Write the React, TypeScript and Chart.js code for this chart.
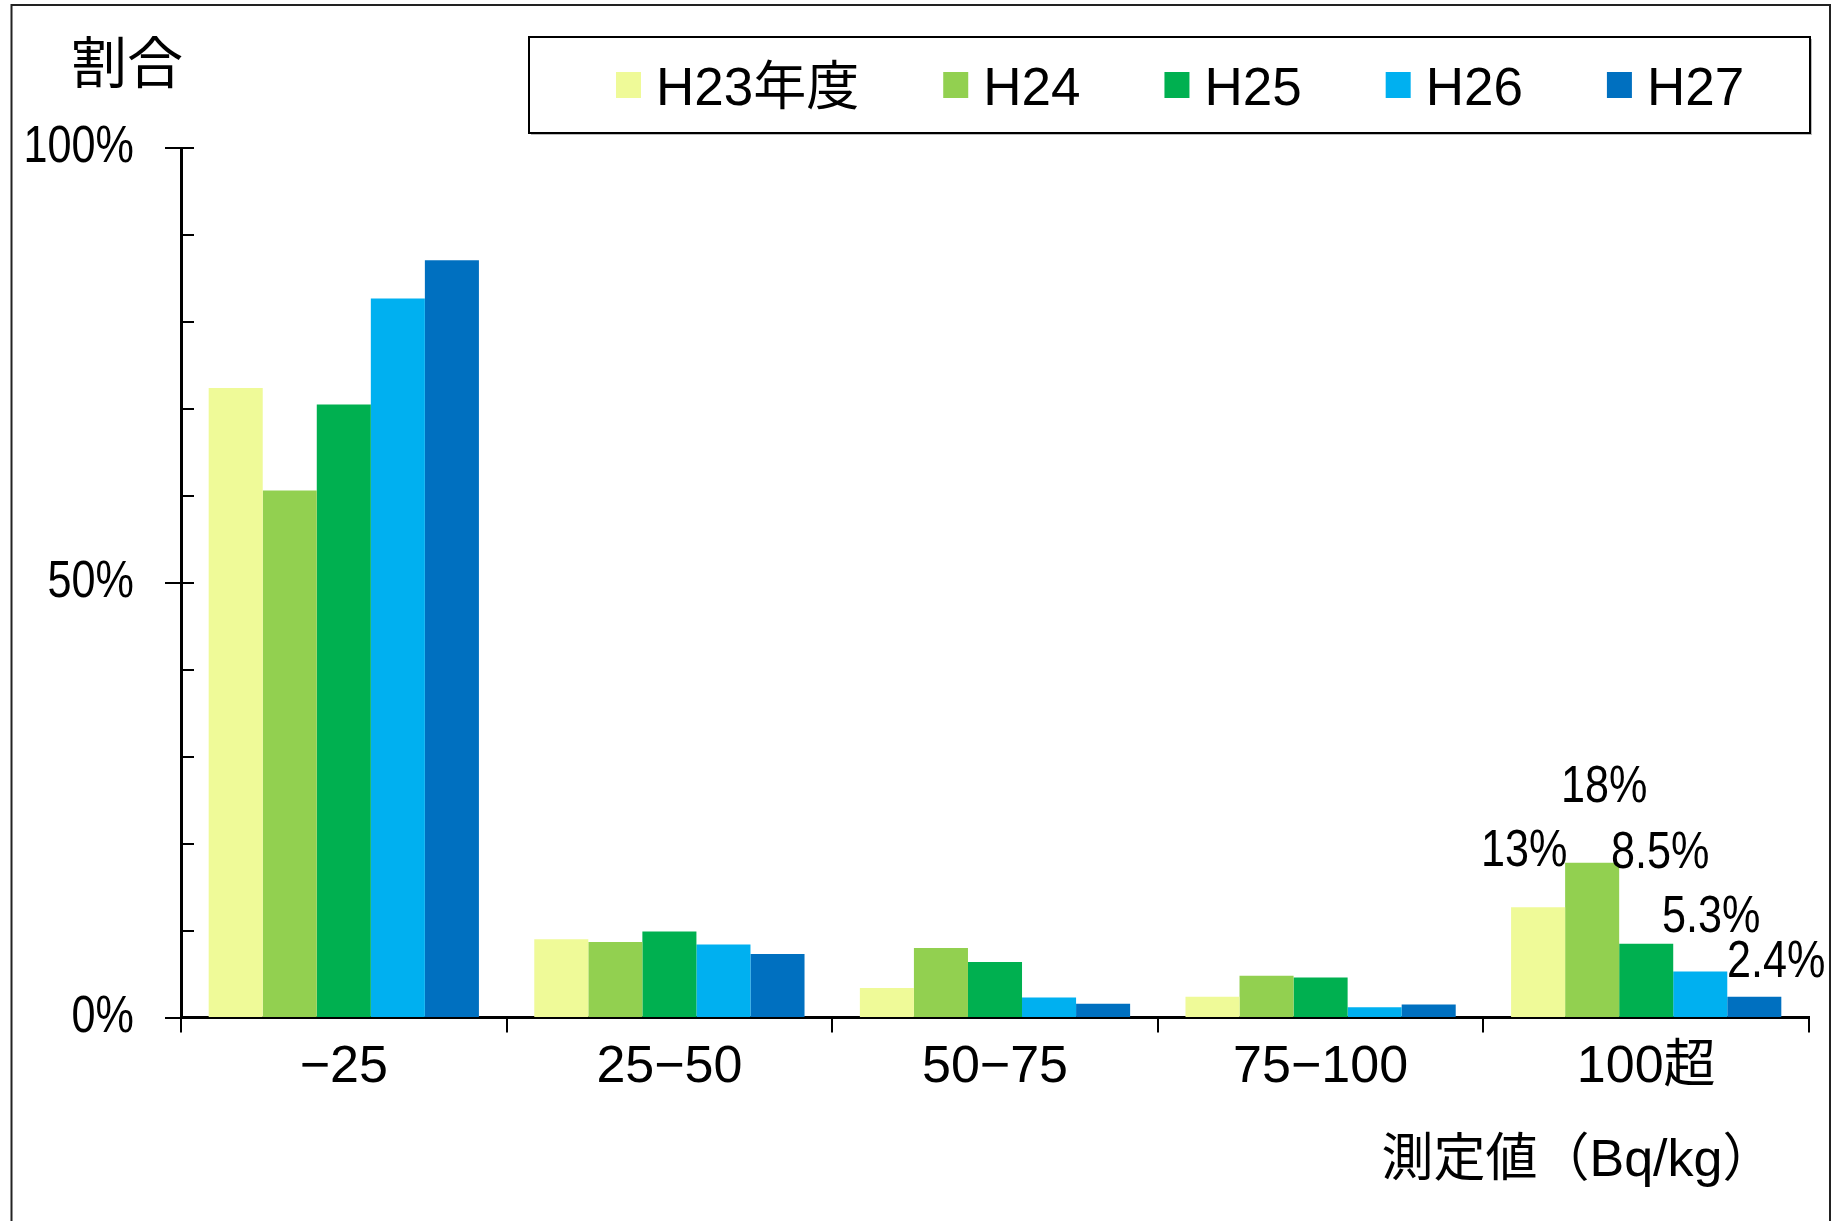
import React, { useEffect, useRef } from 'react';
import { Chart, registerables } from 'chart.js';

Chart.register(...registerables);

// ---- data ----
const categories = ['−25', '25−50', '50−75', '75−100', '100超'];
const seriesLabels = ['H23年度', 'H24', 'H25', 'H26', 'H27'];
const seriesColors = ['#EFFA98', '#92D050', '#00B050', '#00B0F0', '#0070C0'];
const h23 = [72.4, 9.0, 3.4, 2.4, 12.7];
const h24 = [60.6, 8.7, 8.0, 4.8, 17.8];
const h25 = [70.5, 9.9, 6.4, 4.6, 8.5];
const h26 = [82.7, 8.4, 2.3, 1.2, 5.3];
const h27 = [87.1, 7.3, 1.6, 1.5, 2.4];
const seriesValues = [h23, h24, h25, h26, h27];
const majorTicks = [0, 50, 100];
const yTitle = '割合';
const xTitle = '測定値（Bq/kg）';
const labeledCategory = '100超';

// ---- styling / placement (not data) ----
const FONT = "'Liberation Sans', 'Noto Sans CJK JP', sans-serif";
const PCT_SCALE = 0.83;
const labelOffsets = [
  [-14, 41],
  [12, 61],
  [14, 76],
  [11, 40],
  [22, 20],
];

const decorPlugin = {
  id: 'decor',
  beforeDraw(chart: any) {
    const ctx = chart.ctx;
    if (!ctx.__origFill) {
      const orig = ctx.fillText;
      ctx.__origFill = orig;
      ctx.fillText = function (text: any, x: number, y: number, maxWidth?: number) {
        const s = String(text);
        if (s.includes('%')) {
          this.save();
          this.translate(x, y);
          this.scale(PCT_SCALE, 1);
          orig.call(this, s, 0, 0);
          this.restore();
        } else if (maxWidth === undefined) {
          orig.call(this, s, x, y);
        } else {
          orig.call(this, s, x, y, maxWidth);
        }
      };
    }
    ctx.save();
    ctx.fillStyle = '#fff';
    ctx.fillRect(0, 0, chart.width, chart.height);
    ctx.strokeStyle = '#222';
    ctx.lineWidth = 2;
    ctx.strokeRect(11.5, 5, 1818.5, chart.height + 20);
    ctx.restore();
  },
  afterDraw(chart: any) {
    const ctx = chart.ctx;
    const yScale = chart.scales.y;
    const axisX = chart.chartArea.left;
    ctx.save();
    // y tick marks
    ctx.strokeStyle = '#000';
    ctx.lineWidth = 2;
    for (let v = 0; v <= 100; v += 10) {
      const py = Math.round(yScale.getPixelForValue(v));
      ctx.beginPath();
      ctx.moveTo(majorTicks.includes(v) ? axisX - 16 : axisX, py);
      ctx.lineTo(axisX + 13, py);
      ctx.stroke();
    }
    // titles
    ctx.fillStyle = '#000';
    ctx.textAlign = 'center';
    ctx.textBaseline = 'middle';
    ctx.font = `56px ${FONT}`;
    ctx.fillText(yTitle, 127, 68);
    ctx.font = `52px ${FONT}`;
    ctx.fillText(xTitle, 1578, 1162);

    // legend box
    const bx = 529, by = 37, bw = 1281, bh = 96;
    ctx.fillStyle = '#bbb';
    ctx.fillRect(bx + 2, by + bh, bw, 2);
    ctx.fillRect(bx + bw, by + 2, 2, bh);
    ctx.strokeStyle = '#000';
    ctx.lineWidth = 2;
    ctx.strokeRect(bx, by, bw, bh);
    ctx.font = `53px ${FONT}`;
    ctx.textAlign = 'left';
    ctx.textBaseline = 'alphabetic';
    const sw = 25, gap = 15, spacing = 84;
    let x = 616;
    chart.data.datasets.forEach((d: any) => {
      const w = ctx.measureText(d.label).width;
      ctx.fillStyle = d.backgroundColor;
      ctx.fillRect(x, 72, sw, 26);
      ctx.fillStyle = '#000';
      ctx.fillText(d.label, x + sw + gap, 105);
      x += sw + gap + w + spacing;
    });

    // data labels for last category
    const catIdx = categories.indexOf(labeledCategory);
    ctx.font = `52px ${FONT}`;
    ctx.textAlign = 'center';
    ctx.textBaseline = 'alphabetic';
    ctx.fillStyle = '#000';
    chart.data.datasets.forEach((d: any, i: number) => {
      const bar = chart.getDatasetMeta(i).data[catIdx];
      const v = Number(d.data[catIdx]);
      const text = v.toPrecision(2) + '%';
      const [dx, g] = labelOffsets[i];
      ctx.fillText(text, bar.x + dx, bar.y - g);
    });
    ctx.restore();
  },
};

export default function App() {
  const ref = useRef<HTMLCanvasElement>(null);
  useEffect(() => {
    if (!ref.current) return;
    const chart = new Chart(ref.current, {
      type: 'bar',
      data: {
        labels: categories,
        datasets: seriesLabels.map((label, i) => ({
          label,
          data: seriesValues[i],
          backgroundColor: seriesColors[i],
          borderWidth: 0,
          categoryPercentage: 0.83,
          barPercentage: 1.0,
        })),
      },
      options: {
        responsive: false,
        animation: false,
        devicePixelRatio: 1,
        layout: { padding: { top: 148, right: 25, left: 0, bottom: 0 } },
        plugins: {
          legend: { display: false },
          tooltip: { enabled: false },
          title: { display: false },
        },
        scales: {
          x: {
            offset: true,
            grid: {
              offset: true,
              drawOnChartArea: false,
              drawTicks: true,
              tickLength: 15,
              color: '#000',
              lineWidth: 2,
            },
            border: { display: true, color: '#000', width: 3 },
            ticks: {
              font: { family: FONT, size: 52 },
              color: '#000',
              padding: 4,
              maxRotation: 0,
              autoSkip: false,
            },
            afterFit: (s: any) => {
              s.height = 1221 - 1017.6;
            },
          },
          y: {
            min: 0,
            max: 100,
            ticks: {
              stepSize: 10,
              autoSkip: false,
              callback: (v: any) => (majorTicks.includes(Number(v)) ? `${v}%` : ''),
              font: { family: FONT, size: 52 },
              color: '#000',
              padding: 47,
            },
            grid: { display: true, drawOnChartArea: false, drawTicks: false },
            border: { display: true, color: '#000', width: 3 },
            afterFit: (s: any) => {
              s.width = 181;
            },
          },
        },
      },
      plugins: [decorPlugin],
    });
    return () => chart.destroy();
  }, []);
  return (
    <div style={{ position: 'absolute', left: 0, top: 0, width: 1834, height: 1221, background: '#fff' }}>
      <canvas ref={ref} width={1834} height={1221} style={{ display: 'block' }} />
    </div>
  );
}
